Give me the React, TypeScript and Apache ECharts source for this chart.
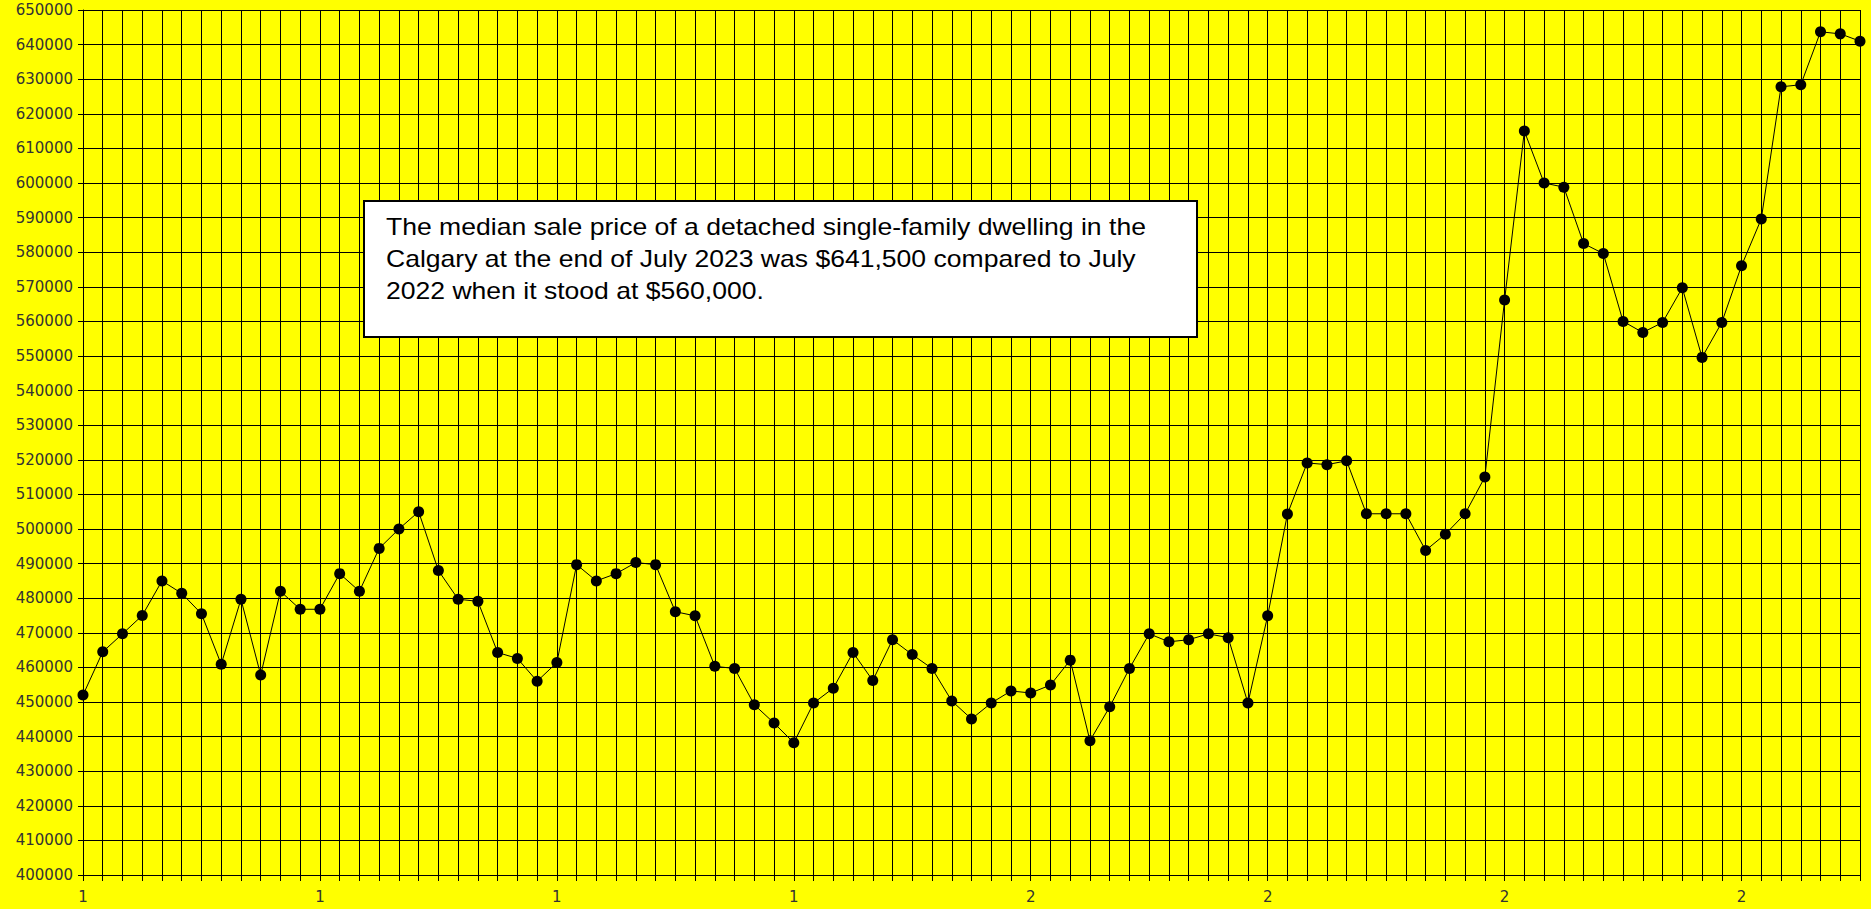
import React, { useEffect, useRef } from "react";
import * as echarts from "echarts";

const values: number[] = [
  452000, 464500, 469700, 475000, 485000, 481400, 475500, 460900, 479700, 457800,
  482000, 476800, 476800, 487100, 482000, 494400, 500000, 505000, 488000, 479700,
  479100, 464300, 462600, 456000, 461400, 489700, 485000, 487100, 490300, 489700,
  476100, 474900, 460300, 459700, 449200, 443900, 438200, 449700, 454000, 464300,
  456200, 468000, 463700, 459700, 450300, 445100, 449700, 453200, 452600, 454900,
  462100, 438800, 448600, 459700, 469700, 467400, 468000, 469700, 468600, 449700,
  474900, 504300, 519100, 518600, 519700, 504400, 504400, 504400, 493800, 498500,
  504400, 515000, 566200, 615000, 600000, 598800, 582500, 579600, 560000, 556800,
  559700, 569700, 549600, 559700, 576100, 589600, 627800, 628400, 643700, 643100,
  641000,
];

const xTickLabels: string[] = ["1", "1", "1", "1", "2", "2", "2", "2"];
const categories: string[] = values.map((_, i) => String(i));

const noteLines: string[] = [
  "The median sale price of a detached single-family dwelling in the",
  "Calgary at the end of July 2023 was $641,500 compared to July",
  "2022 when it stood at $560,000.",
];

const yMin = 400000;
const yMax = 650000;
const yStep = 10000;

export default function App() {
  const ref = useRef<HTMLDivElement>(null);

  useEffect(() => {
    document.body.style.margin = "0";
    document.body.style.background = "#ffff00";
    if (!ref.current) return;
    const chart = echarts.init(ref.current, undefined, { renderer: "svg" });
    chart.setOption({
      animation: false,
      backgroundColor: "#ffff00",
      grid: { left: 83, top: 10, right: 11, bottom: 34, containLabel: false },
      xAxis: {
        type: "category",
        data: categories,
        boundaryGap: false,
        axisLine: { show: true, lineStyle: { color: "#000", width: 1 } },
        axisTick: { show: true, interval: 0, length: 6, lineStyle: { color: "#000", width: 1 } },
        axisLabel: {
          interval: 11,
          margin: 14,
          color: "#333",
          fontSize: 15,
          fontFamily: "DejaVu Sans",
          formatter: (_v: string, i: number) => xTickLabels[Math.floor(i / 12)] ?? "",
        },
        splitLine: { show: true, interval: 0, lineStyle: { color: "#000", width: 1 } },
      },
      yAxis: {
        type: "value",
        min: yMin,
        max: yMax,
        interval: yStep,
        axisLine: { show: true, lineStyle: { color: "#000", width: 1 } },
        axisTick: { show: true, length: 5, lineStyle: { color: "#000", width: 1 } },
        axisLabel: {
          margin: 10,
          color: "#333",
          fontSize: 15,
          fontFamily: "DejaVu Sans",
          formatter: (v: number) => String(v),
        },
        splitLine: { show: true, lineStyle: { color: "#000", width: 1 } },
      },
      series: [
        {
          type: "line",
          data: values,
          symbol: "circle",
          symbolSize: 11,
          showSymbol: true,
          itemStyle: { color: "#000" },
          lineStyle: { color: "#000", width: 1 },
        },
      ],
      graphic: [
        {
          type: "group",
          left: 363,
          top: 200,
          z: 100,
          children: [
            {
              type: "rect",
              z: 100,
              shape: { x: 0, y: 0, width: 833, height: 136 },
              style: { fill: "#ffffff", stroke: "#000", lineWidth: 2 },
            },
            {
              type: "text",
              z: 101,
              x: 22,
              y: 10,
              scaleX: 1.155,
              style: {
                text: noteLines.join("\n"),
                fill: "#000",
                fontSize: 23,
                fontFamily: "Liberation Sans, Arial, sans-serif",
                lineHeight: 32,
              },
            },
          ],
        },
      ],
    });
    return () => chart.dispose();
  }, []);

  return <div ref={ref} style={{ width: 1871, height: 909 }} />;
}
